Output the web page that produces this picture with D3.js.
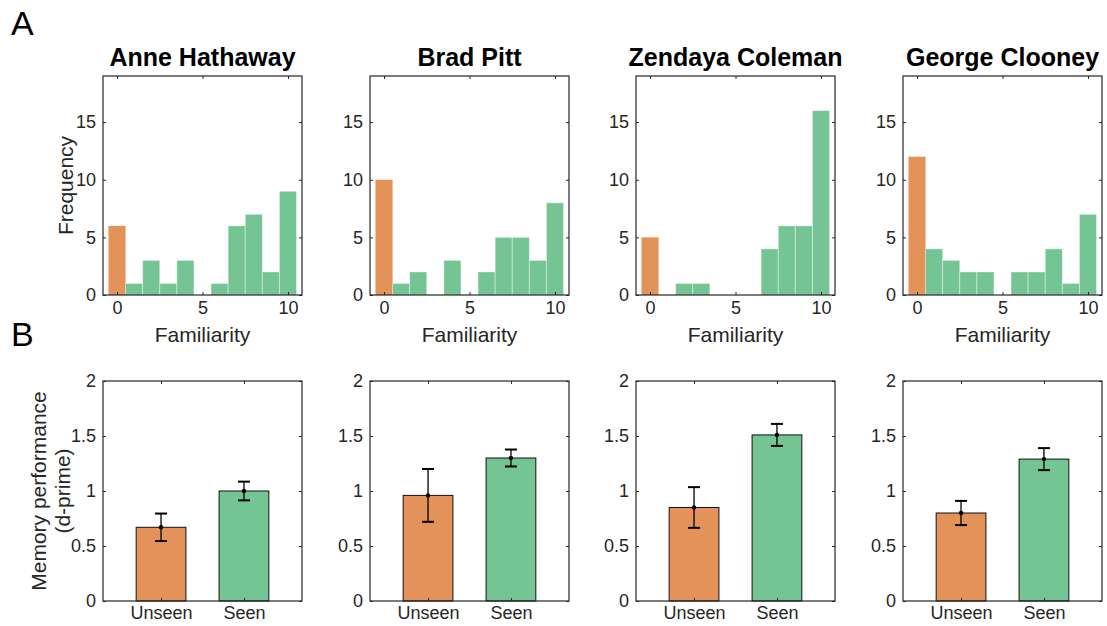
<!DOCTYPE html>
<html>
<head>
<meta charset="utf-8">
<script src="https://cdn.jsdelivr.net/npm/d3@7"></script>
<style>
  body { margin: 0; background: #fff; }
  svg { display: block; font-family: "Liberation Sans", Arial, Helvetica, sans-serif; }
</style>
</head>
<body>
<div id="chart"></div>
<script>
// data
const celebrities = ["Anne Hathaway", "Brad Pitt", "Zendaya Coleman", "George Clooney"];
const familiarityBins = [0, 1, 2, 3, 4, 5, 6, 7, 8, 9, 10];
const countsAnne    = [6, 1, 3, 1, 3, 0, 1, 6, 7, 2, 9];
const countsBrad    = [10, 1, 2, 0, 3, 0, 2, 5, 5, 3, 8];
const countsZendaya = [5, 0, 1, 1, 0, 0, 0, 4, 6, 6, 16];
const countsGeorge  = [12, 4, 3, 2, 2, 0, 2, 2, 4, 1, 7];
const conditions = ["Unseen", "Seen"];
const unseenMean = [0.67, 0.96, 0.85, 0.80];
const unseenErr  = [0.125, 0.24, 0.185, 0.11];
const seenMean   = [1.00, 1.30, 1.51, 1.29];
const seenErr    = [0.085, 0.077, 0.10, 0.10];

const histCounts = [countsAnne, countsBrad, countsZendaya, countsGeorge];

const W = 1107, H = 626;
const orange = "#e3925a", green = "#74c494", axisCol = "#262626";
const panelLeft = [103, 370, 636, 903];
const panelW = 199;
const histTop = 76, histBottom = 295;
const barTop = 381, barBottom = 601;

const svg = d3.select("#chart").append("svg")
    .attr("width", W)
    .attr("height", H);

function styleAxis(g, showText) {
    g.select(".domain").remove();
    g.selectAll(".tick line").attr("stroke", axisCol);
    g.selectAll(".tick text")
        .attr("fill", axisCol)
        .style("font-size", "18px");
    if (!showText) g.selectAll(".tick text").remove();
}

// panel letters
svg.append("text").attr("x", 11).attr("y", 35)
    .style("font-size", "34px").attr("fill", "#000").text("A");
svg.append("text").attr("x", 11).attr("y", 346)
    .style("font-size", "34px").attr("fill", "#000").text("B");

// ---- row A: histograms ----
histCounts.forEach((counts, p) => {
    const left = panelLeft[p];
    const g = svg.append("g");

    const x = d3.scaleLinear().domain([-0.82, 10.82]).range([left, left + panelW]);
    const y = d3.scaleLinear().domain([0, 19]).range([histBottom, histTop]);

    const bins = familiarityBins.map((b, i) => ({ bin: b, count: counts[i] }))
        .filter(d => d.count > 0);

    g.selectAll("rect.bin")
        .data(bins)
        .enter()
        .append("rect")
        .attr("class", "bin")
        .attr("x", d => x(d.bin - 0.5))
        .attr("y", d => y(d.count))
        .attr("width", d => x(d.bin + 0.5) - x(d.bin - 0.5))
        .attr("height", d => y(0) - y(d.count))
        .attr("fill", d => d.bin === 0 ? orange : green)
        .attr("stroke", d => d.bin === 0 ? "none" : "rgba(255,255,255,0.4)")
        .attr("stroke-width", 1);

    const xt = [0, 5, 10], yt = [0, 5, 10, 15];
    g.append("g").attr("transform", `translate(0,${histBottom})`)
        .call(d3.axisBottom(x).tickValues(xt).tickSizeInner(-3).tickSizeOuter(0).tickPadding(6))
        .call(a => styleAxis(a, true));
    g.append("g").attr("transform", `translate(0,${histTop})`)
        .call(d3.axisTop(x).tickValues(xt).tickSizeInner(-3).tickSizeOuter(0))
        .call(a => styleAxis(a, false));
    g.append("g").attr("transform", `translate(${left},0)`)
        .call(d3.axisLeft(y).tickValues(yt).tickSizeInner(-3).tickSizeOuter(0).tickPadding(7))
        .call(a => styleAxis(a, true));
    g.append("g").attr("transform", `translate(${left + panelW},0)`)
        .call(d3.axisRight(y).tickValues(yt).tickSizeInner(-3).tickSizeOuter(0))
        .call(a => styleAxis(a, false));

    g.append("rect")
        .attr("x", left).attr("y", histTop)
        .attr("width", panelW).attr("height", histBottom - histTop)
        .attr("fill", "none").attr("stroke", axisCol).attr("stroke-width", 1.2);

    g.append("text")
        .attr("x", left + panelW / 2).attr("y", 66)
        .attr("text-anchor", "middle")
        .style("font-size", "25px").style("font-weight", "bold")
        .attr("fill", "#000")
        .text(celebrities[p]);

    g.append("text")
        .attr("x", left + panelW / 2).attr("y", 342)
        .attr("text-anchor", "middle")
        .style("font-size", "21px").attr("fill", axisCol)
        .text("Familiarity");

    if (p === 0) {
        g.append("text")
            .attr("transform", `translate(${left - 30},${(histTop + histBottom) / 2}) rotate(-90)`)
            .attr("text-anchor", "middle")
            .style("font-size", "21px").attr("fill", axisCol)
            .text("Frequency");
    }
});

// ---- row B: d-prime bars ----
celebrities.forEach((name, p) => {
    const left = panelLeft[p];
    const g = svg.append("g");

    const x = d3.scaleLinear().domain([0.3, 2.7]).range([left, left + panelW]);
    const y = d3.scaleLinear().domain([0, 2]).range([barBottom, barTop]);

    const rows = [
        { cond: conditions[0], pos: 1, mean: unseenMean[p], err: unseenErr[p], color: orange },
        { cond: conditions[1], pos: 2, mean: seenMean[p], err: seenErr[p], color: green }
    ];

    g.selectAll("rect.bar")
        .data(rows)
        .enter()
        .append("rect")
        .attr("class", "bar")
        .attr("x", d => x(d.pos - 0.3))
        .attr("y", d => y(d.mean))
        .attr("width", d => x(d.pos + 0.3) - x(d.pos - 0.3))
        .attr("height", d => y(0) - y(d.mean))
        .attr("fill", d => d.color)
        .attr("stroke", "#111")
        .attr("stroke-width", 1);

    const eb = g.selectAll("g.err").data(rows).enter().append("g").attr("class", "err");
    eb.append("line")
        .attr("x1", d => x(d.pos)).attr("x2", d => x(d.pos))
        .attr("y1", d => y(d.mean - d.err)).attr("y2", d => y(d.mean + d.err))
        .attr("stroke", "#000").attr("stroke-width", 1.3);
    eb.append("line")
        .attr("x1", d => x(d.pos) - 6).attr("x2", d => x(d.pos) + 6)
        .attr("y1", d => y(d.mean + d.err)).attr("y2", d => y(d.mean + d.err))
        .attr("stroke", "#000").attr("stroke-width", 2);
    eb.append("line")
        .attr("x1", d => x(d.pos) - 6).attr("x2", d => x(d.pos) + 6)
        .attr("y1", d => y(d.mean - d.err)).attr("y2", d => y(d.mean - d.err))
        .attr("stroke", "#000").attr("stroke-width", 2);
    eb.append("circle")
        .attr("cx", d => x(d.pos)).attr("cy", d => y(d.mean))
        .attr("r", 2.2).attr("fill", "#000");

    const yt = [0, 0.5, 1, 1.5, 2];
    g.append("g").attr("transform", `translate(0,${barBottom})`)
        .call(d3.axisBottom(x).tickValues([1, 2]).tickFormat((d, i) => conditions[i])
            .tickSizeInner(-3).tickSizeOuter(0).tickPadding(5))
        .call(a => styleAxis(a, true));
    g.append("g").attr("transform", `translate(0,${barTop})`)
        .call(d3.axisTop(x).tickValues([1, 2]).tickSizeInner(-3).tickSizeOuter(0))
        .call(a => styleAxis(a, false));
    g.append("g").attr("transform", `translate(${left},0)`)
        .call(d3.axisLeft(y).tickValues(yt).tickFormat(d3.format("~g"))
            .tickSizeInner(-3).tickSizeOuter(0).tickPadding(7))
        .call(a => styleAxis(a, true));
    g.append("g").attr("transform", `translate(${left + panelW},0)`)
        .call(d3.axisRight(y).tickValues(yt).tickSizeInner(-3).tickSizeOuter(0))
        .call(a => styleAxis(a, false));

    g.append("rect")
        .attr("x", left).attr("y", barTop)
        .attr("width", panelW).attr("height", barBottom - barTop)
        .attr("fill", "none").attr("stroke", axisCol).attr("stroke-width", 1.2);

    if (p === 0) {
        const lab = g.append("text")
            .attr("transform", `translate(${left - 57},${(barTop + barBottom) / 2}) rotate(-90)`)
            .attr("text-anchor", "middle")
            .style("font-size", "21px").attr("fill", axisCol);
        lab.append("tspan").attr("x", 0).attr("dy", 0).text("Memory performance");
        lab.append("tspan").attr("x", 0).attr("dy", 24).text("(d-prime)");
    }
});
</script>
</body>
</html>
